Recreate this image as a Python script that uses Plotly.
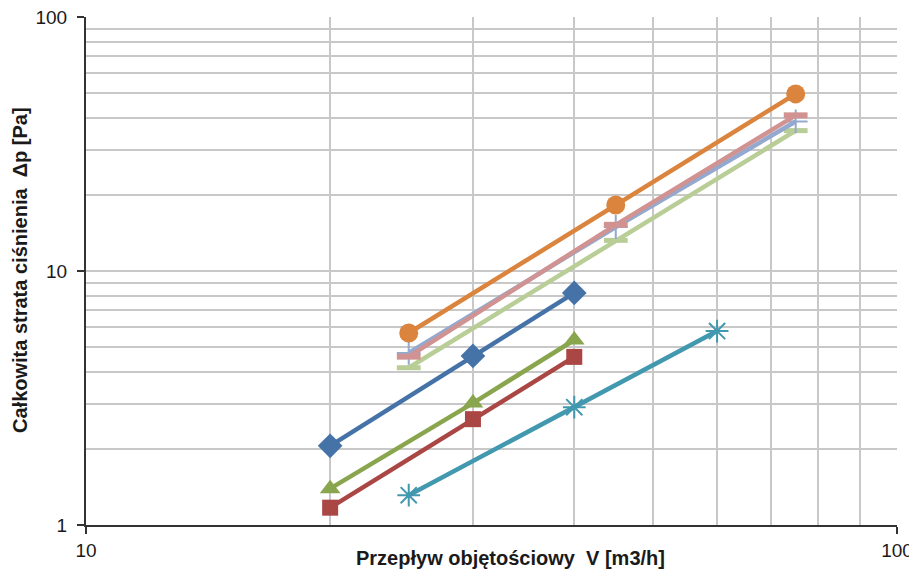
import plotly.graph_objects as go

# Data (log-log)
x_a = [20, 30, 40]
blue_diamond = [2.05, 4.63, 8.2]
red_square = [1.17, 2.61, 4.59]
green_triangle = [1.39, 3.02, 5.35]

x_b = [25, 40, 60]
teal_star = [1.31, 2.91, 5.8]

x_c = [25, 45, 75]
orange_circle = [5.70, 18.2, 49.8]
lightblue_plus = [4.76, 14.9, 38.8]
pink_dash = [4.60, 15.2, 41.0]
lightgreen_dash = [4.16, 13.2, 35.7]

x_major = [10, 100]
y_major = [1, 10, 100]
x_minor = [20, 30, 40, 50, 60, 70, 80, 90]
y_minor = [2, 3, 4, 5, 6, 7, 8, 9, 20, 30, 40, 50, 60, 70, 80, 90]

x_title = "Przepływ objętościowy  V [m3/h]"
y_title = "Całkowita strata ciśnienia  Δp [Pa]"

fig = go.Figure()

def add(x, y, color, symbol, size, lw=0, order_name=""):
    fig.add_trace(go.Scatter(
        x=x, y=y, mode="lines+markers", name=order_name,
        line=dict(color=color, width=4.5),
        marker=dict(symbol=symbol, size=size, color=color,
                    line=dict(color=color, width=lw)),
        showlegend=False, cliponaxis=False,
    ))

add(x_c, lightgreen_dash, "#B9CD96", "line-ew-open", 17, 5, "s9")
add(x_c, lightblue_plus, "#93A9CF", "cross-thin-open", 17, 2, "s7")
add(x_c, pink_dash, "#D19392", "line-ew-open", 17, 6, "s8")
add(x_c, orange_circle, "#DB843D", "circle", 19, 0, "s6")
add(x_a, blue_diamond, "#4572A7", "diamond", 19, 0, "s1")
add(x_a, green_triangle, "#89A54E", "triangle-up", 18, 0, "s3")
add(x_a, red_square, "#AA4643", "square", 16, 0, "s2")
add(x_b, teal_star, "#4198AF", "asterisk-open", 19, 2, "s5")

font_fam = "Liberation Sans, Arial, sans-serif"
axis_font = dict(family=font_fam, size=19, color="#1a1a1a")
title_font = dict(family=font_fam, size=20, color="#1a1a1a")

common = dict(
    type="log",
    ticks="outside", ticklen=7, tickwidth=1.5, tickcolor="#333333",
    showline=True, linecolor="#333333", linewidth=2,
    showgrid=True, gridcolor="#C8C8C8", gridwidth=1.5,
    tickfont=axis_font, zeroline=False, automargin=False,
    ticklabeloverflow="allow",
)
fig.update_xaxes(
    range=[1, 2], tickvals=x_major, ticktext=[str(v) for v in x_major],
    minor=dict(tickvals=x_minor, showgrid=True, gridcolor="#C8C8C8", gridwidth=1.5, ticks=""),
    **common,
)
fig.update_yaxes(
    range=[0, 2], tickvals=y_major, ticktext=[str(v) for v in y_major],
    minor=dict(tickvals=y_minor, showgrid=True, gridcolor="#C8C8C8", gridwidth=1.5, ticks=""),
    ticklabelstandoff=6,
    **common,
)

fig.add_annotation(text="<b>" + x_title + "</b>", xref="paper", yref="paper",
                   x=0.524, y=0, yshift=-33, xanchor="center", yanchor="middle",
                   showarrow=False, font=title_font)
fig.add_annotation(text="<b>" + y_title + "</b>", xref="paper", yref="paper",
                   x=0, y=0.502, xshift=-66, xanchor="center", yanchor="middle",
                   textangle=-90, showarrow=False, font=title_font)

# page body keeps the browser's default 8px margin, so the figure is sized to fit
fig.update_layout(
    width=909, height=565,
    margin=dict(l=78, r=20, t=9, b=48),
    plot_bgcolor="white", paper_bgcolor="white",
    showlegend=False,
)

fig.write_html("out.html")
